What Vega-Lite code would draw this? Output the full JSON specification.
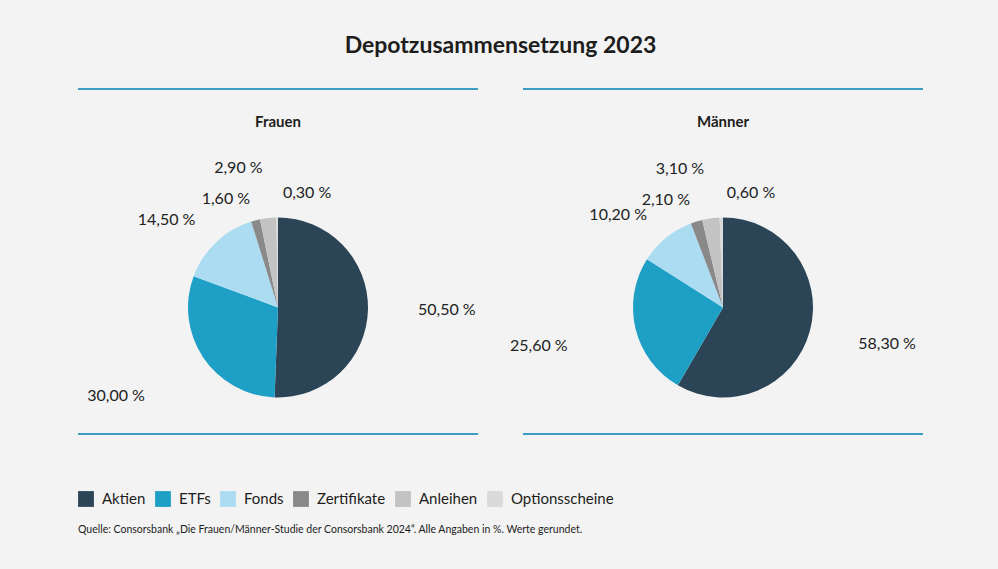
{
  "$schema": "https://vega.github.io/schema/vega-lite/v6.json",
  "background": "#f3f3f3",
  "padding": {"left": 77, "right": 76, "top": 35, "bottom": 34},
  "title": {"text": "Depotzusammensetzung 2023", "anchor": "middle", "fontSize": 23, "fontWeight": "bold", "font": "Lato", "color": "#1d1d1b", "offset": 30},
  "data": {"values": [
    {"Geschlecht": "Frauen", "Anlageklasse": "Aktien", "Rang": 1, "Anteil": 50.5},
    {"Geschlecht": "Frauen", "Anlageklasse": "ETFs", "Rang": 2, "Anteil": 30.0},
    {"Geschlecht": "Frauen", "Anlageklasse": "Fonds", "Rang": 3, "Anteil": 14.5},
    {"Geschlecht": "Frauen", "Anlageklasse": "Zertifikate", "Rang": 4, "Anteil": 1.6},
    {"Geschlecht": "Frauen", "Anlageklasse": "Anleihen", "Rang": 5, "Anteil": 2.9},
    {"Geschlecht": "Frauen", "Anlageklasse": "Optionsscheine", "Rang": 6, "Anteil": 0.3},
    {"Geschlecht": "Männer", "Anlageklasse": "Aktien", "Rang": 1, "Anteil": 58.3},
    {"Geschlecht": "Männer", "Anlageklasse": "ETFs", "Rang": 2, "Anteil": 25.6},
    {"Geschlecht": "Männer", "Anlageklasse": "Fonds", "Rang": 3, "Anteil": 10.2},
    {"Geschlecht": "Männer", "Anlageklasse": "Zertifikate", "Rang": 4, "Anteil": 2.1},
    {"Geschlecht": "Männer", "Anlageklasse": "Anleihen", "Rang": 5, "Anteil": 3.1},
    {"Geschlecht": "Männer", "Anlageklasse": "Optionsscheine", "Rang": 6, "Anteil": 0.6}
  ]},
  "bounds": "flush",
  "spacing": 45,
  "hconcat": [
    {
      "width": 400, "height": 345,
      "title": {"text": "Frauen", "fontSize": 15, "fontWeight": "bold", "font": "Lato", "color": "#1d1d1b", "anchor": "middle", "offset": -42},
      "layer": [
        {
          "transform": [{"filter": "datum.Geschlecht === 'Frauen'"}],
          "encoding": {
            "theta": {"field": "Anteil", "type": "quantitative", "stack": true},
            "order": {"field": "Rang", "type": "quantitative", "sort": "ascending"}
          },
          "layer": [
            {"mark": {"type": "arc", "outerRadius": 90, "yOffset": 46},
             "encoding": {"color": {"field": "Anlageklasse", "type": "nominal",
               "scale": {"domain": ["Aktien", "ETFs", "Fonds", "Zertifikate", "Anleihen", "Optionsscheine"],
                         "range": ["#2b4556", "#1e9fc6", "#acdcf2", "#898989", "#c3c3c3", "#dadada"]},
               "legend": {"title": "Quelle: Consorsbank „Die Frauen/Männer-Studie der Consorsbank 2024“. Alle Angaben in %. Werte gerundet."}}}},
            {"mark": {"type": "text", "radius": 140, "align": "left", "baseline": "middle", "fontSize": 16, "font": "Lato", "color": "#222222", "yOffset": 46},
             "encoding": {"text": {"condition": {"test": "datum.Anlageklasse === 'Aktien'", "field": "Anteil", "type": "quantitative", "format": "$.2f"}, "value": ""}}},
            {"mark": {"type": "text", "radius": 160, "align": "right", "baseline": "middle", "fontSize": 16, "font": "Lato", "color": "#222222", "yOffset": 46},
             "encoding": {"text": {"condition": {"test": "datum.Anlageklasse === 'ETFs'", "field": "Anteil", "type": "quantitative", "format": "$.2f"}, "value": ""}}},
            {"mark": {"type": "text", "radius": 120, "align": "right", "baseline": "middle", "fontSize": 16, "font": "Lato", "color": "#222222", "yOffset": 46},
             "encoding": {"text": {"condition": {"test": "datum.Anlageklasse === 'Fonds'", "field": "Anteil", "type": "quantitative", "format": "$.2f"}, "value": ""}}},
            {"mark": {"type": "text", "radius": 112, "align": "right", "baseline": "middle", "fontSize": 16, "font": "Lato", "color": "#222222", "yOffset": 46},
             "encoding": {"text": {"condition": {"test": "datum.Anlageklasse === 'Zertifikate'", "field": "Anteil", "type": "quantitative", "format": "$.2f"}, "value": ""}}},
            {"mark": {"type": "text", "radius": 140, "align": "right", "baseline": "middle", "fontSize": 16, "font": "Lato", "color": "#222222", "yOffset": 46},
             "encoding": {"text": {"condition": {"test": "datum.Anlageklasse === 'Anleihen'", "field": "Anteil", "type": "quantitative", "format": "$.2f"}, "value": ""}}},
            {"mark": {"type": "text", "radius": 115, "align": "left", "baseline": "middle", "fontSize": 16, "font": "Lato", "color": "#222222", "yOffset": 46, "dx": 6},
             "encoding": {"text": {"condition": {"test": "datum.Anlageklasse === 'Optionsscheine'", "field": "Anteil", "type": "quantitative", "format": "$.2f"}, "value": ""}}}
          ]
        },
        {"data": {"values": [{"Linie": "oben"}]}, "mark": {"type": "rule", "color": "#3d9cc2", "strokeWidth": 2}, "encoding": {"y": {"value": 0}}},
        {"data": {"values": [{"Linie": "unten"}]}, "mark": {"type": "rule", "color": "#3d9cc2", "strokeWidth": 2}, "encoding": {"y": {"value": 345}}}
      ]
    },
    {
      "width": 400, "height": 345,
      "title": {"text": "Männer", "fontSize": 15, "fontWeight": "bold", "font": "Lato", "color": "#1d1d1b", "anchor": "middle", "offset": -42},
      "layer": [
        {
          "transform": [{"filter": "datum.Geschlecht === 'Männer'"}],
          "encoding": {
            "theta": {"field": "Anteil", "type": "quantitative", "stack": true},
            "order": {"field": "Rang", "type": "quantitative", "sort": "ascending"}
          },
          "layer": [
            {"mark": {"type": "arc", "outerRadius": 90, "yOffset": 46},
             "encoding": {"color": {"field": "Anlageklasse", "type": "nominal",
               "scale": {"domain": ["Aktien", "ETFs", "Fonds", "Zertifikate", "Anleihen", "Optionsscheine"],
                         "range": ["#2b4556", "#1e9fc6", "#acdcf2", "#898989", "#c3c3c3", "#dadada"]},
               "legend": {"title": "Quelle: Consorsbank „Die Frauen/Männer-Studie der Consorsbank 2024“. Alle Angaben in %. Werte gerundet."}}}},
            {"mark": {"type": "text", "radius": 140, "align": "left", "baseline": "middle", "fontSize": 16, "font": "Lato", "color": "#222222", "yOffset": 46},
             "encoding": {"text": {"condition": {"test": "datum.Anlageklasse === 'Aktien'", "field": "Anteil", "type": "quantitative", "format": "$.2f"}, "value": ""}}},
            {"mark": {"type": "text", "radius": 160, "align": "right", "baseline": "middle", "fontSize": 16, "font": "Lato", "color": "#222222", "yOffset": 46},
             "encoding": {"text": {"condition": {"test": "datum.Anlageklasse === 'ETFs'", "field": "Anteil", "type": "quantitative", "format": "$.2f"}, "value": ""}}},
            {"mark": {"type": "text", "radius": 120, "align": "right", "baseline": "middle", "fontSize": 16, "font": "Lato", "color": "#222222", "yOffset": 46},
             "encoding": {"text": {"condition": {"test": "datum.Anlageklasse === 'Fonds'", "field": "Anteil", "type": "quantitative", "format": "$.2f"}, "value": ""}}},
            {"mark": {"type": "text", "radius": 112, "align": "right", "baseline": "middle", "fontSize": 16, "font": "Lato", "color": "#222222", "yOffset": 46},
             "encoding": {"text": {"condition": {"test": "datum.Anlageklasse === 'Zertifikate'", "field": "Anteil", "type": "quantitative", "format": "$.2f"}, "value": ""}}},
            {"mark": {"type": "text", "radius": 140, "align": "right", "baseline": "middle", "fontSize": 16, "font": "Lato", "color": "#222222", "yOffset": 46},
             "encoding": {"text": {"condition": {"test": "datum.Anlageklasse === 'Anleihen'", "field": "Anteil", "type": "quantitative", "format": "$.2f"}, "value": ""}}},
            {"mark": {"type": "text", "radius": 115, "align": "left", "baseline": "middle", "fontSize": 16, "font": "Lato", "color": "#222222", "yOffset": 46, "dx": 6},
             "encoding": {"text": {"condition": {"test": "datum.Anlageklasse === 'Optionsscheine'", "field": "Anteil", "type": "quantitative", "format": "$.2f"}, "value": ""}}}
          ]
        },
        {"data": {"values": [{"Linie": "oben"}]}, "mark": {"type": "rule", "color": "#3d9cc2", "strokeWidth": 2}, "encoding": {"y": {"value": 0}}},
        {"data": {"values": [{"Linie": "unten"}]}, "mark": {"type": "rule", "color": "#3d9cc2", "strokeWidth": 2}, "encoding": {"y": {"value": 345}}}
      ]
    }
  ],
  "config": {
    "locale": {"number": {"decimal": ",", "thousands": ".", "grouping": [3], "currency": ["", " %"]}},
    "view": {"stroke": null},
    "font": "Lato",
    "legend": {
      "orient": "bottom", "direction": "horizontal",
      "titleOrient": "bottom", "titleFontSize": 10.5, "titleFontWeight": "normal", "titleColor": "#1d1d1b", "titleFont": "Lato", "titlePadding": 18, "titleLimit": 900, "titleAnchor": "start",
      "symbolType": "square", "symbolSize": 250, "symbolStrokeWidth": 0,
      "labelFontSize": 15, "labelColor": "#1d1d1b", "labelFont": "Lato", "labelOffset": 8, "columnPadding": 9,
      "offset": 56
    }
  }
}
